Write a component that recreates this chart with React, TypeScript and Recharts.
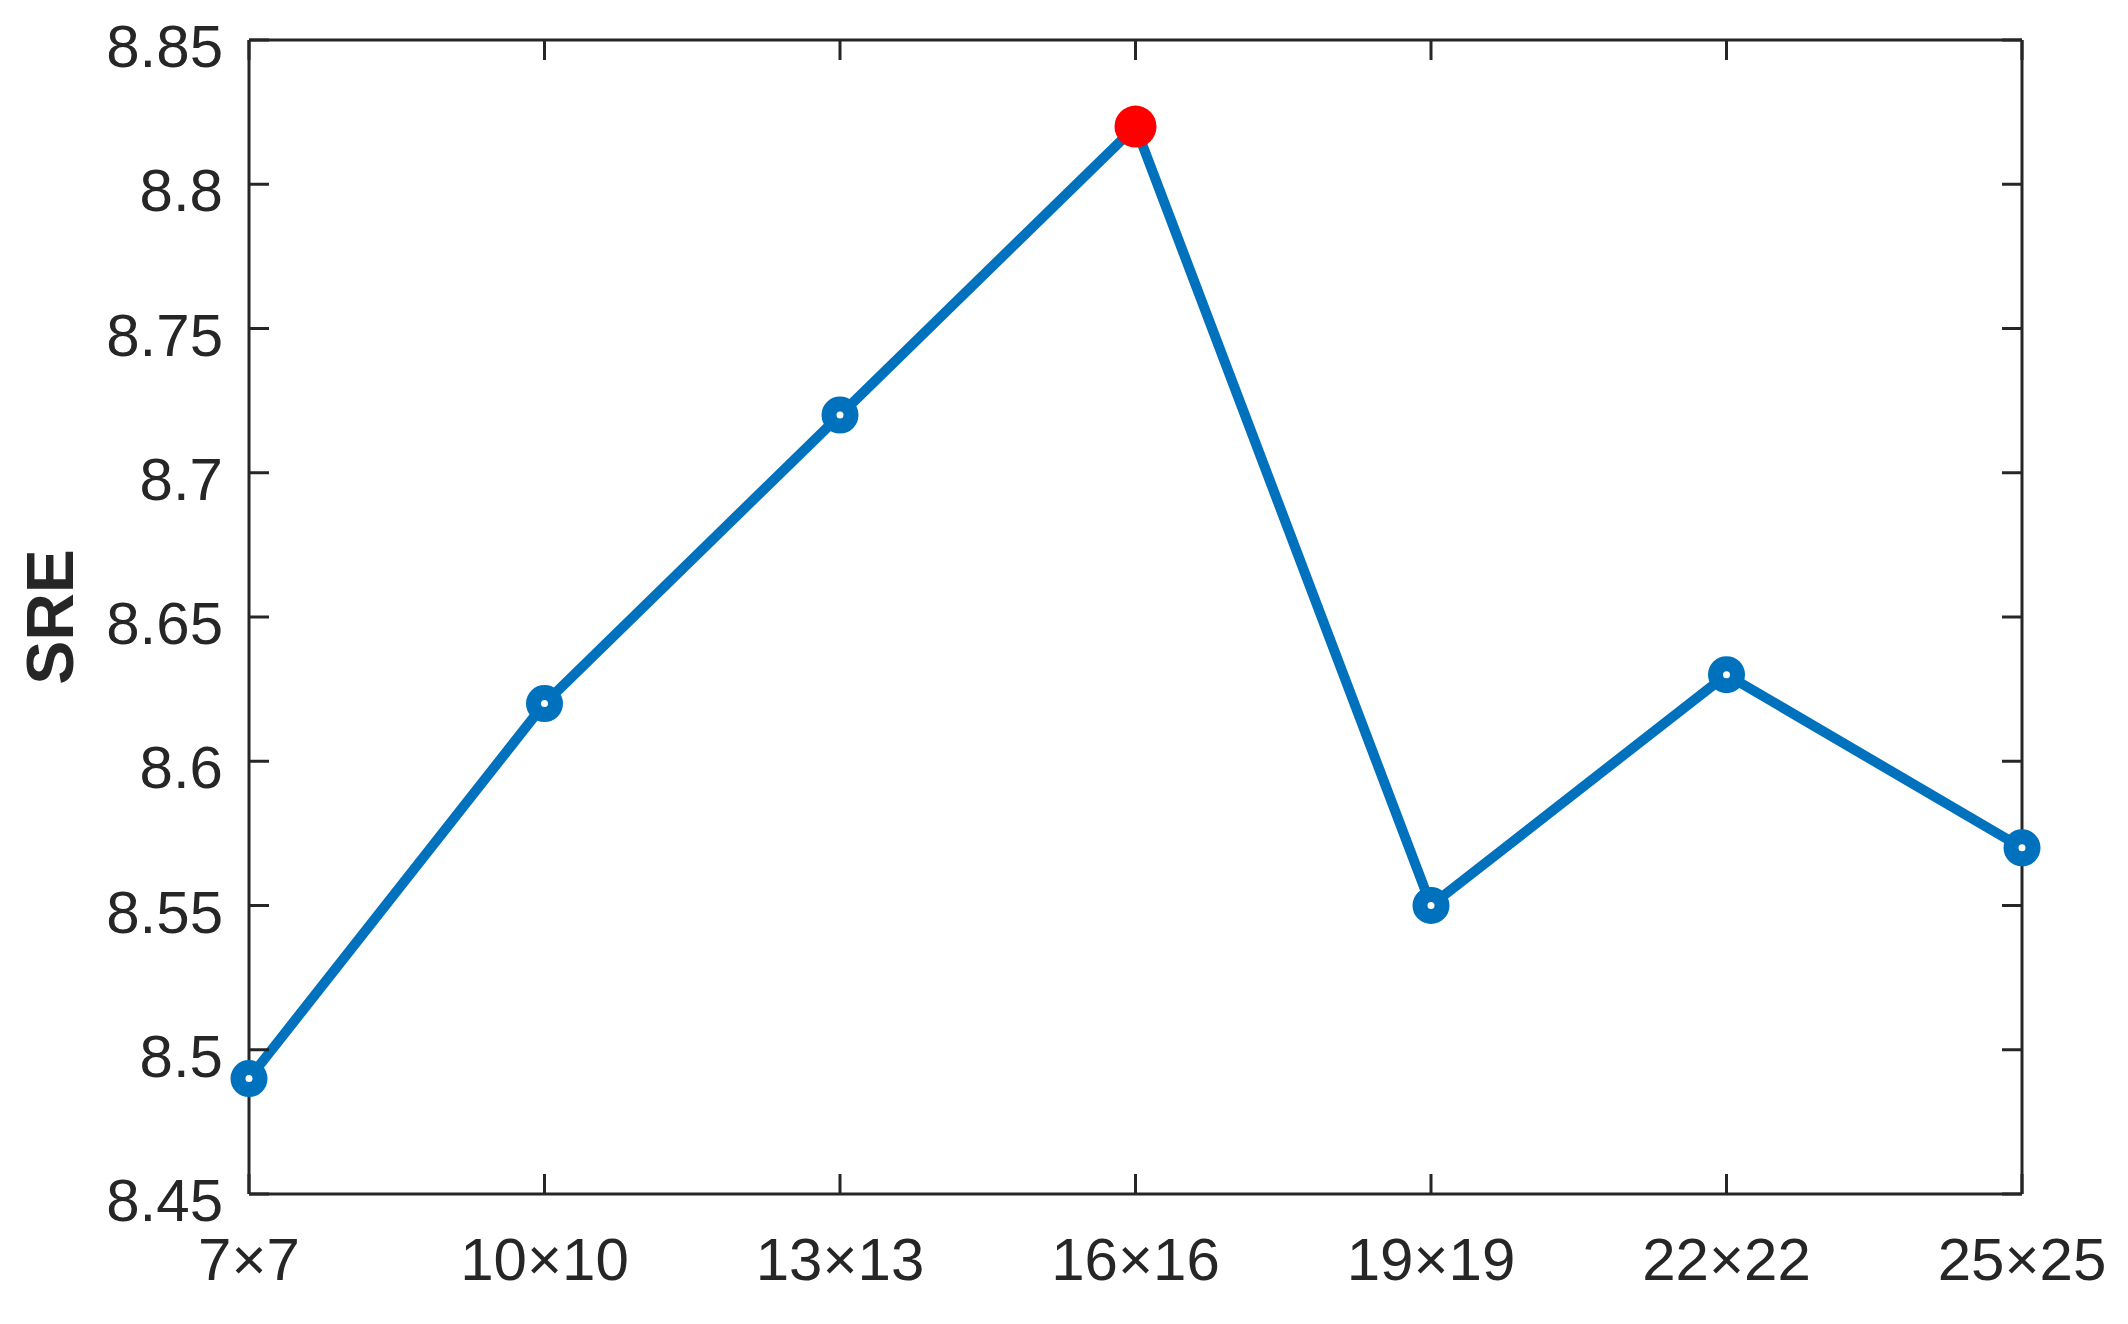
import React from 'react';
import { LineChart, Line, XAxis, YAxis } from 'recharts';

const categories = ['7×7', '10×10', '13×13', '16×16', '19×19', '22×22', '25×25'];
const sreValues = [8.49, 8.62, 8.72, 8.82, 8.55, 8.63, 8.57];
const yTicks = [8.45, 8.5, 8.55, 8.6, 8.65, 8.7, 8.75, 8.8, 8.85];
const highlightIndex = 3;

const data = categories.map((name, i) => ({ name, sre: sreValues[i] }));

// plot frame in chart coordinates (layout only)
const LEFT_X = 241;
const RIGHT_X = 2014;
const TOP_Y = 32;
const BOTTOM_Y = 1186;

const TICK_LEN = 20;
const AXIS_COLOR = '#262626';
const FONT = '"Liberation Sans", Arial, Helvetica, sans-serif';
const LINE_COLOR = '#0072BD';

const fmt = (v: number) => String(Number(v.toFixed(2)));

const LeftTick = (props: any) => {
  const { y, payload } = props;
  return (
    <g>
      <line x1={LEFT_X} x2={LEFT_X + TICK_LEN} y1={y} y2={y} stroke={AXIS_COLOR} strokeWidth={3} />
      <line x1={RIGHT_X - TICK_LEN} x2={RIGHT_X} y1={y} y2={y} stroke={AXIS_COLOR} strokeWidth={3} />
      <text x={LEFT_X - 26} y={y + 27} textAnchor="end" fontFamily={FONT} fontSize={60} fill={AXIS_COLOR}>
        {fmt(payload.value)}
      </text>
    </g>
  );
};

const BottomTick = (props: any) => {
  const { x, payload } = props;
  return (
    <g>
      <line x1={x} x2={x} y1={BOTTOM_Y - TICK_LEN} y2={BOTTOM_Y} stroke={AXIS_COLOR} strokeWidth={3} />
      <line x1={x} x2={x} y1={TOP_Y} y2={TOP_Y + TICK_LEN} stroke={AXIS_COLOR} strokeWidth={3} />
      <text x={x} y={BOTTOM_Y + 86} textAnchor="middle" fontFamily={FONT} fontSize={60} fill={AXIS_COLOR}>
        {payload.value}
      </text>
    </g>
  );
};

const Dot = (props: any) => {
  const { cx, cy, index } = props;
  if (index === highlightIndex) {
    return <circle key={`d${index}`} cx={cx} cy={cy} r={21} fill="#FF0000" stroke="none" />;
  }
  return <circle key={`d${index}`} cx={cx} cy={cy} r={11} fill="#ffffff" stroke={LINE_COLOR} strokeWidth={15} />;
};

const YLabel = (props: any) => {
  const vb = props.viewBox || {};
  const cx = 42;
  const cy = vb.y + vb.height / 2;
  return (
    <text
      x={cx}
      y={cy}
      transform={`rotate(-90, ${cx}, ${cy})`}
      textAnchor="middle"
      dominantBaseline="central"
      fontFamily={FONT}
      fontWeight="bold"
      fontSize={66}
      fill={AXIS_COLOR}
    >
      SRE
    </text>
  );
};

export default function App() {
  return (
    <div style={{ width: 2120, height: 1316, background: '#ffffff' }}>
      <LineChart width={2120} height={1316} data={data} margin={{ top: 31, right: 105, bottom: 30, left: 10 }}>
        <XAxis
          dataKey="name"
          interval={0}
          height={100}
          tickLine={false}
          tick={BottomTick}
          axisLine={{ stroke: AXIS_COLOR, strokeWidth: 3 }}
        />
        <XAxis
          xAxisId="top"
          orientation="top"
          dataKey="name"
          height={1}
          tickLine={false}
          tick={false}
          axisLine={{ stroke: AXIS_COLOR, strokeWidth: 3 }}
        />
        <YAxis
          domain={[8.45, 8.85]}
          ticks={yTicks}
          interval={0}
          width={231}
          tickLine={false}
          tick={LeftTick}
          allowDataOverflow
          axisLine={{ stroke: AXIS_COLOR, strokeWidth: 3 }}
          label={<YLabel />}
        />
        <YAxis
          yAxisId="right"
          orientation="right"
          domain={[8.45, 8.85]}
          width={1}
          tickLine={false}
          tick={false}
          allowDataOverflow
          axisLine={{ stroke: AXIS_COLOR, strokeWidth: 3 }}
        />
        <Line
          type="linear"
          dataKey="sre"
          stroke={LINE_COLOR}
          strokeWidth={10}
          dot={Dot}
          activeDot={false}
          isAnimationActive={false}
        />
      </LineChart>
    </div>
  );
}
